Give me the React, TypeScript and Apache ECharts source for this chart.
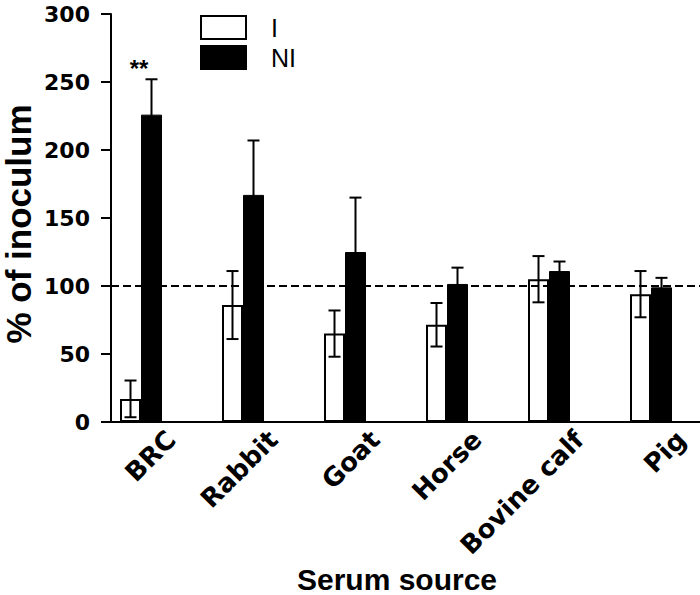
import React, { useEffect, useRef } from "react";
import * as echarts from "echarts";

const categories = ["BRC", "Rabbit", "Goat", "Horse", "Bovine calf", "Pig"];
const iMeans = [17, 86, 65, 71.5, 105, 94];
const iErr = [13.5, 25, 17, 16, 17, 17];
const niMeans = [226, 167, 125, 101.5, 111, 99];
const niErr = [26, 40, 40, 12, 7, 7];
const seriesNames = ["I", "NI"];
const yMin = 0;
const yMax = 300;
const yStep = 50;
const refValue = 100;
const annotations = [{ category: "BRC", value: 260, text: "**" }];

const BAR_W = 21;
const CAP = 12;

export default function App() {
  const ref = useRef<HTMLDivElement>(null);
  useEffect(() => {
    if (!ref.current) return;
    const chart = echarts.init(ref.current, undefined, { renderer: "svg" });

    const errData = (means: number[], errs: number[]) =>
      means.map((m, i) => [i, m - errs[i], m + errs[i]]);

    const makeErr = (name: string, means: number[], errs: number[], offset: number) => ({
      type: "custom",
      name: name + "_err",
      z: 5,
      silent: true,
      data: errData(means, errs),
      renderItem: (params: any, api: any) => {
        const ci = api.value(0);
        const top = api.coord([ci, api.value(2)]);
        const bot = api.coord([ci, api.value(1)]);
        const x = top[0] + offset;
        const st = { stroke: "#000", lineWidth: 2 };
        return {
          type: "group",
          children: [
            { type: "line", shape: { x1: x, y1: top[1], x2: x, y2: bot[1] }, style: st },
            { type: "line", shape: { x1: x - CAP / 2, y1: top[1], x2: x + CAP / 2, y2: top[1] }, style: st },
            { type: "line", shape: { x1: x - CAP / 2, y1: bot[1], x2: x + CAP / 2, y2: bot[1] }, style: st },
          ],
        };
      },
    });

    const option: any = {
      animation: false,
      textStyle: { fontFamily: "Liberation Sans, Arial, sans-serif", color: "#000" },
      grid: {
        left: 111,
        right: -23,
        top: 14,
        bottom: 173,
        containLabel: false,
        outerBoundsMode: "none",
      },
      legend: {
        orient: "vertical",
        left: 200,
        top: 15,
        padding: 0,
        itemWidth: 45,
        itemHeight: 23,
        itemGap: 5,
        selectedMode: false,
        textStyle: { fontSize: 25, color: "#000", lineHeight: 24, padding: [0, 0, 0, 20] },
        data: [
          { name: seriesNames[0], icon: "rect", itemStyle: { color: "#fff", borderColor: "#000", borderWidth: 2 } },
          { name: seriesNames[1], icon: "rect", itemStyle: { color: "#000", borderColor: "#000", borderWidth: 2 } },
        ],
      },
      xAxis: {
        type: "category",
        data: categories,
        boundaryGap: true,
        axisLine: { lineStyle: { color: "#000", width: 2 } },
        axisTick: { alignWithLabel: true, length: 10, lineStyle: { color: "#000", width: 2 } },
        axisLabel: {
          rotate: 45,
          interval: 0,
          margin: 4,
          fontSize: 26,
          fontWeight: "bold",
          fontFamily: "DejaVu Sans",
          color: "#000",
          verticalAlign: "top",
        },
        name: "Serum source",
        nameLocation: "middle",
        nameGap: 142,
        nameMoveOverlap: false,
        nameTextStyle: {
          fontSize: 30,
          fontWeight: "bold",
          color: "#000",
          padding: [0, 40, 0, 0],
        },
        splitLine: { show: false },
      },
      yAxis: {
        type: "value",
        min: yMin,
        max: yMax,
        interval: yStep,
        axisLine: { show: true, lineStyle: { color: "#000", width: 2 } },
        axisTick: { show: true, length: 10, lineStyle: { color: "#000", width: 2 } },
        axisLabel: {
          margin: 21,
          fontSize: 22,
          fontWeight: "bold",
          fontFamily: "DejaVu Sans",
          color: "#000",
        },
        splitLine: { show: false },
        name: "% of inoculum",
        nameLocation: "middle",
        nameGap: 78,
        nameMoveOverlap: false,
        nameTextStyle: {
          fontSize: 35,
          lineHeight: 30,
          fontWeight: "bold",
          color: "#000",
          padding: [0, 12, 0, 0],
        },
      },
      series: [
        {
          type: "bar",
          name: seriesNames[0],
          data: iMeans,
          barWidth: BAR_W,
          barGap: "0%",
          itemStyle: { color: "#fff", borderColor: "#000", borderWidth: 2 },
          markLine: {
            silent: true,
            symbol: "none",
            label: { show: false },
            lineStyle: { color: "#000", width: 2, type: [8, 4] },
            data: [{ yAxis: refValue }],
          },
        },
        {
          type: "bar",
          name: seriesNames[1],
          data: niMeans,
          barWidth: BAR_W,
          barGap: "0%",
          itemStyle: { color: "#000", borderColor: "#000", borderWidth: 1 },
        },
        { type: "bar", name: "_pad1", data: categories.map(() => "-"), barWidth: BAR_W, barGap: "0%" },
        { type: "bar", name: "_pad2", data: categories.map(() => "-"), barWidth: BAR_W, barGap: "0%" },
        makeErr("I", iMeans, iErr, -1.5 * BAR_W),
        makeErr("NI", niMeans, niErr, -0.5 * BAR_W),
        {
          type: "custom",
          name: "annot",
          z: 6,
          silent: true,
          data: annotations.map((a) => [categories.indexOf(a.category), a.value]),
          renderItem: (params: any, api: any) => {
            const p = api.coord([api.value(0), api.value(1)]);
            const a = annotations[params.dataIndex];
            return {
              type: "text",
              x: p[0] - BAR_W - 2,
              y: p[1],
              style: {
                text: a.text,
                fontSize: 24,
                fontWeight: "bold",
                fontFamily: "Liberation Sans",
                fill: "#000",
                align: "center",
                verticalAlign: "middle",
              },
            };
          },
        },
      ],
    };
    chart.setOption(option);
    return () => chart.dispose();
  }, []);
  return (
    <div
      ref={ref}
      style={{ position: "fixed", left: 0, top: 0, width: 700, height: 595, background: "#fff" }}
    />
  );
}
